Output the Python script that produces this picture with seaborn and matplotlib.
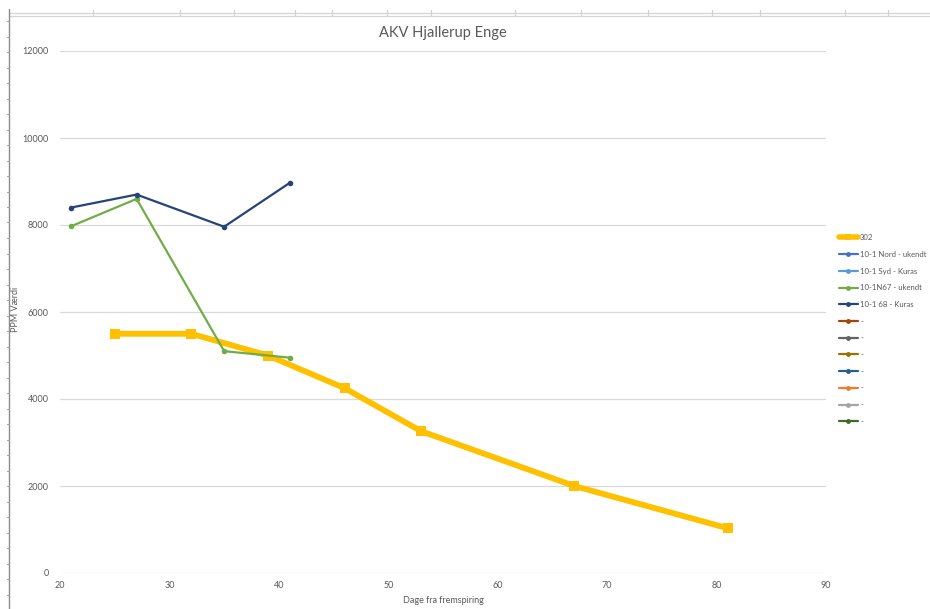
import matplotlib
matplotlib.use("Agg")
import matplotlib.pyplot as plt
from matplotlib.lines import Line2D
import seaborn as sns
import pandas as pd

sns.set_theme(style="white")
plt.rcParams["font.family"] = ["Lato", "DejaVu Sans"]

TEXT = "#595959"

# --- measurements -------------------------------------------------------
days_302 = [25, 32, 39, 46, 53, 67, 81]
ppm_302 = [5500, 5500, 5000, 4250, 3260, 2000, 1030]

days_68 = [21, 27, 35, 41]
ppm_68 = [8400, 8700, 7960, 8970]

days_n67 = [21, 27, 35, 41]
ppm_n67 = [7970, 8600, 5100, 4950]

series_names = ["302", "10-1 Nord - ukendt", "10-1 Syd - Kuras",
                "10-1N67 - ukendt", "10-1 68 - Kuras",
                "-", "-", "-", "-", "-", "-", "-"]
series_colors = ["#FFC000", "#4472C4", "#5B9BD5", "#70AD47", "#264478",
                 "#9E480E", "#636363", "#997300", "#255E91", "#ED7D31",
                 "#A5A5A5", "#43682B"]

x_ticks = [20, 30, 40, 50, 60, 70, 80, 90]
y_ticks = [0, 2000, 4000, 6000, 8000, 10000, 12000]

df_302 = pd.DataFrame({"dag": days_302, "ppm": ppm_302})
df_68 = pd.DataFrame({"dag": days_68, "ppm": ppm_68})
df_n67 = pd.DataFrame({"dag": days_n67, "ppm": ppm_n67})

fig = plt.figure(figsize=(9.30, 6.09), dpi=100)
ax = fig.add_axes([60 / 930, 1 - 573 / 609, (826 - 60) / 930, (573 - 51) / 609])

sns.lineplot(data=df_302, x="dag", y="ppm", ax=ax, color=series_colors[0],
             linewidth=4.2, marker="s", markersize=7.5, markeredgewidth=0,
             zorder=3, legend=False)
sns.lineplot(data=df_n67, x="dag", y="ppm", ax=ax, color=series_colors[3],
             linewidth=1.6, marker="o", markersize=4, markeredgewidth=0,
             zorder=4, legend=False)
sns.lineplot(data=df_68, x="dag", y="ppm", ax=ax, color=series_colors[4],
             linewidth=1.6, marker="o", markersize=4, markeredgewidth=0,
             zorder=4, legend=False)

ax.set_xlim(20, 90)
ax.set_ylim(0, 12000)
ax.set_xticks(x_ticks)
ax.set_yticks(y_ticks)
ax.set_xticklabels([str(v) for v in x_ticks])
ax.set_yticklabels([str(v) for v in y_ticks])
ax.tick_params(axis="both", length=0, labelsize=6.5, labelcolor=TEXT)
ax.tick_params(axis="y", pad=8)
ax.tick_params(axis="x", pad=6)
ax.yaxis.grid(True, color="#D9D9D9", linewidth=0.9)
ax.xaxis.grid(False)
for s in ax.spines.values():
    s.set_visible(False)

ax.set_xlabel("Dage fra fremspiring", fontsize=6.5, color=TEXT, labelpad=4)
ax.set_ylabel("PPM Værdi", fontsize=6.5, color=TEXT)
ax.yaxis.set_label_coords(-40 / 766, 0.504)
ax.set_title("AKV Hjallerup Enge", fontsize=10.5, color=TEXT, pad=10)

# legend with all series, including the empty ones
handles = []
for i, (name, col) in enumerate(zip(series_names, series_colors)):
    if i == 0:
        h = Line2D([], [], color=col, linewidth=4, marker="s", markersize=5,
                   markeredgewidth=0)
    else:
        h = Line2D([], [], color=col, linewidth=1.6, marker="o", markersize=3.5,
                   markeredgewidth=0)
    handles.append(h)
leg = fig.legend(handles, series_names, loc="upper left",
                 bbox_to_anchor=(836 / 930, 1 - 231 / 609), frameon=False,
                 fontsize=5.6, labelcolor=TEXT, handlelength=2.4,
                 handletextpad=0.3, labelspacing=1.25, borderaxespad=0)

# worksheet frame around the chart object
frame_col = "#D4D4D4"
fig.add_artist(Line2D([9 / 930, 1], [1 - 12.7 / 609] * 2, color=frame_col, lw=0.9))
fig.add_artist(Line2D([9 / 930, 1], [1 - 16.3 / 609] * 2, color=frame_col, lw=0.9))
for xc in [93, 180, 234, 295, 332, 387, 431, 515, 581, 648, 712, 760, 845, 888]:
    fig.add_artist(Line2D([xc / 930] * 2, [1 - 9.5 / 609, 1 - 16.3 / 609],
                          color=frame_col, lw=0.9))
fig.add_artist(Line2D([9 / 930] * 2, [1 - 9 / 609, 0], color="#8C8C8C", lw=1.0))
yc = 21
while yc < 609:
    fig.add_artist(Line2D([6.5 / 930, 9 / 930], [1 - yc / 609] * 2,
                          color="#A0A0A0", lw=0.8))
    yc += 15.5

fig.savefig("out.png", dpi=100)
